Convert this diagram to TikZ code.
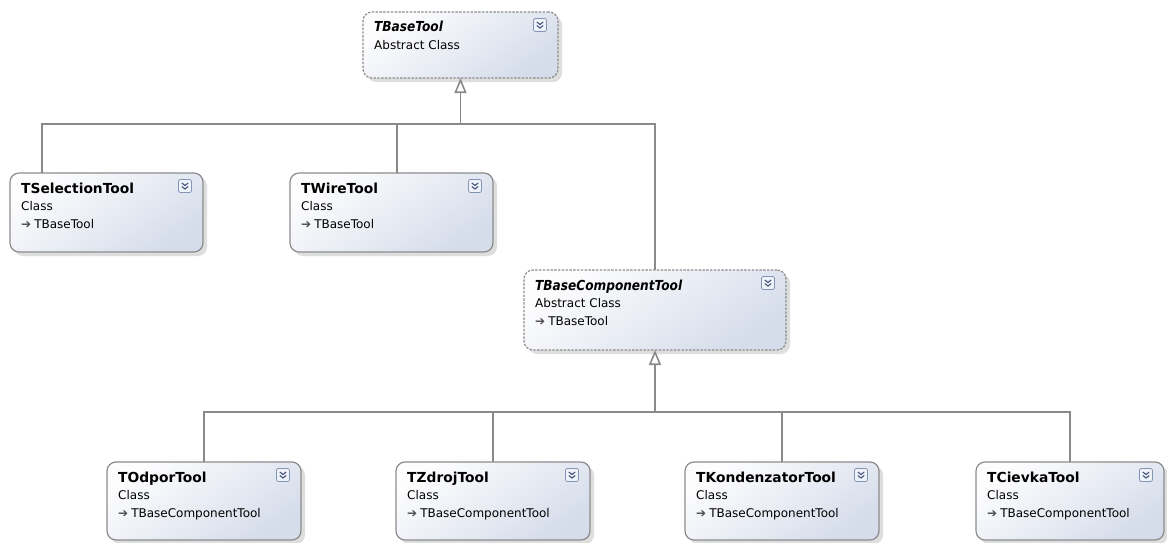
\documentclass[tikz,border=0pt]{standalone}
\usepackage{fontspec}
\setmainfont{DejaVu Sans}
\usetikzlibrary{arrows.meta,shadows}

\definecolor{boxtop}{HTML}{FDFDFE}
\definecolor{boxbot}{HTML}{D5DCEA}
\definecolor{boxline}{HTML}{8C8C8C}
\definecolor{wire}{HTML}{8A8A8A}
\definecolor{iconline}{HTML}{8494B4}
\definecolor{iconfill}{HTML}{EEF2F9}
\definecolor{iconmark}{HTML}{45557A}

\tikzset{
  classbase/.style={rounded corners=9pt, inner sep=0pt, outer sep=0pt,
    top color=boxtop, bottom color=boxbot, shading angle=35,
    drop shadow={shadow xshift=4pt, shadow yshift=-4pt, fill=black!25}},
  concrete/.style={classbase, draw=boxline, line width=1.2pt},
  abstract/.style={classbase, draw=boxline, line width=1.2pt,
    dash pattern=on 2.4pt off 1.4pt},
  titlefont/.style={inner sep=0pt, anchor=base west,
    font=\bfseries\fontsize{13.8}{15}\selectfont},
  kindfont/.style={inner sep=0pt, anchor=base west,
    font=\fontsize{12}{13}\selectfont},
  expander/.style={draw=iconline, fill=iconfill, line width=0.8pt,
    rounded corners=2pt, minimum width=13pt, minimum height=13pt, inner sep=0pt},
  chev/.style={draw=iconmark, line width=1.1pt},
  conn/.style={draw=wire, line width=1.6pt},
  inherit/.style={conn, -{Triangle[length=15pt, width=12pt, fill=white]}},
}

% class box: name, style, left, top, width, height, title
\newcommand{\umlbox}[7]{%
  \node[#2, minimum width=#5pt, minimum height=#6pt, anchor=north west] (#1) at (#3,#4) {};
  \node[titlefont] (#1-t) at ([shift={(11pt,-20pt)}]#1.north west) {#7};
  \node[expander] (#1-i) at ([shift={(-18pt,-13pt)}]#1.north east) {};
  \draw[chev] ([shift={(-3.2pt,3pt)}]#1-i.center) -- ([shift={(0pt,0.5pt)}]#1-i.center)
              -- ([shift={(3.2pt,3pt)}]#1-i.center);
  \draw[chev] ([shift={(-3.2pt,-0.5pt)}]#1-i.center) -- ([shift={(0pt,-3pt)}]#1-i.center)
              -- ([shift={(3.2pt,-0.5pt)}]#1-i.center);
}
% title of an abstract class: bold oblique, set narrow
\newcommand{\abstracttitle}[1]{\itshape\scalebox{0.88}[1]{#1}}
% second line: kind of class
\newcommand{\umlkind}[2]{%
  \node[kindfont] (#1-k) at ([shift={(11pt,-37pt)}]#1.north west) {#2};
}
% third line: base class
\newcommand{\umlbase}[2]{%
  \node[kindfont] (#1-b) at ([shift={(11pt,-55pt)}]#1.north west)
    {{\color{black!70}\fontsize{12}{12}\selectfont ➔}\hspace{3pt}#2};
}

\begin{document}
\begin{tikzpicture}[x=1pt,y=-1pt]
\useasboundingbox[fill=white] (0,0) rectangle (1167,543);

% classes
\umlbox{tbase}{abstract}{363}{12}{195}{66}{\abstracttitle{TBaseTool}}
\umlkind{tbase}{Abstract Class}

\umlbox{tsel}{concrete}{10}{173}{193}{79}{TSelectionTool}
\umlkind{tsel}{Class}
\umlbase{tsel}{TBaseTool}

\umlbox{twire}{concrete}{290}{173}{203}{79}{TWireTool}
\umlkind{twire}{Class}
\umlbase{twire}{TBaseTool}

\umlbox{tbc}{abstract}{524}{270}{262}{80}{\abstracttitle{TBaseComponentTool}}
\umlkind{tbc}{Abstract Class}
\umlbase{tbc}{TBaseTool}

\umlbox{todp}{concrete}{107}{462}{194}{78}{TOdporTool}
\umlkind{todp}{Class}
\umlbase{todp}{TBaseComponentTool}

\umlbox{tzdr}{concrete}{396}{462}{194}{78}{TZdrojTool}
\umlkind{tzdr}{Class}
\umlbase{tzdr}{TBaseComponentTool}

\umlbox{tkon}{concrete}{685}{462}{194}{78}{TKondenzatorTool}
\umlkind{tkon}{Class}
\umlbase{tkon}{TBaseComponentTool}

\umlbox{tcie}{concrete}{976}{462}{188}{78}{TCievkaTool}
\umlkind{tcie}{Class}
\umlbase{tcie}{TBaseComponentTool}

% inheritance from TBaseTool
\path (tbase.south) ++(0pt,-46pt) coordinate (bus1);
\draw[conn] ([xshift=32pt]tsel.north west) |- (bus1 -| tbc.north) -- (tbc.north);
\draw[conn] ([xshift=107pt]twire.north west) |- (bus1);
\draw[inherit] (bus1) -- (tbase.south);

% inheritance from TBaseComponentTool
\path (tbc.south) ++(0pt,-62pt) coordinate (bus2);
\draw[conn] (todp.north) |- (bus2 -| tcie.north) -- (tcie.north);
\draw[conn] (tzdr.north) |- (bus2);
\draw[conn] (tkon.north) |- (bus2);
\draw[inherit] (bus2) -- (tbc.south);
\end{tikzpicture}
\end{document}
